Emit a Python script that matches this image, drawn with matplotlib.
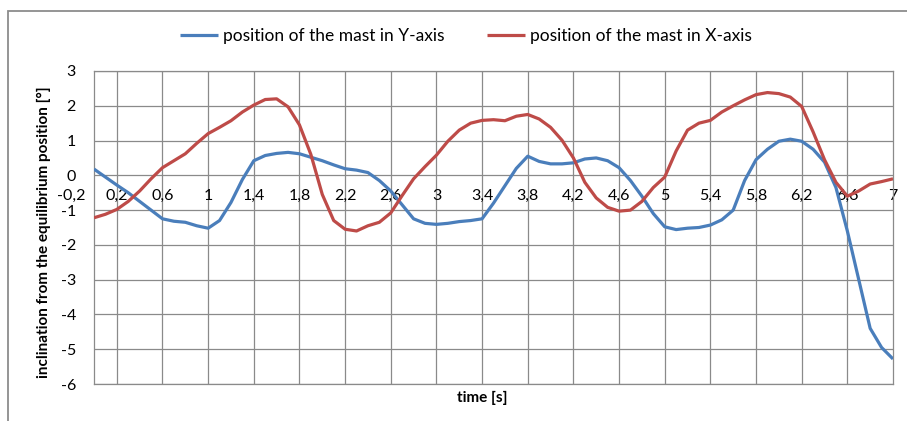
import numpy as np
import matplotlib
matplotlib.use("Agg")
import matplotlib.pyplot as plt
from matplotlib.patches import Rectangle

plt.rcParams['font.family'] = ['Lato', 'DejaVu Sans']

# time [s], sampled every 0.1 s
time = np.round(np.arange(0, 71) * 0.1, 1)

# position of the mast in Y-axis [deg]
mast_y = [0.18, -0.05, -0.28, -0.5, -0.75, -1.0, -1.25, -1.32, -1.35, -1.45,
          -1.52, -1.3, -0.78, -0.12, 0.42, 0.57, 0.63, 0.66, 0.62, 0.52,
          0.42, 0.3, 0.19, 0.15, 0.08, -0.15, -0.45, -0.85, -1.25, -1.38,
          -1.41, -1.38, -1.33, -1.3, -1.25, -0.8, -0.3, 0.2, 0.55, 0.4,
          0.33, 0.33, 0.36, 0.47, 0.5, 0.42, 0.22, -0.15, -0.6, -1.1,
          -1.48, -1.56, -1.52, -1.5, -1.43, -1.28, -1.0, -0.15, 0.45, 0.75,
          0.98, 1.04, 0.98, 0.75, 0.38, -0.35, -1.6, -3.0, -4.4, -4.95,
          -5.28]

# position of the mast in X-axis [deg]
mast_x = [-1.22, -1.12, -0.98, -0.75, -0.45, -0.1, 0.22, 0.42, 0.62, 0.92,
          1.2, 1.38, 1.57, 1.82, 2.02, 2.18, 2.2, 1.97, 1.45, 0.6,
          -0.55, -1.3, -1.55, -1.6, -1.45, -1.35, -1.08, -0.58, -0.1, 0.25,
          0.58, 0.98, 1.3, 1.5, 1.58, 1.6, 1.57, 1.7, 1.75, 1.62,
          1.38, 1.01, 0.5, -0.2, -0.65, -0.92, -1.03, -1.0, -0.75, -0.35,
          -0.05, 0.7, 1.3, 1.5, 1.58, 1.82, 2.0, 2.17, 2.32, 2.38,
          2.35, 2.25, 1.98, 1.25, 0.45, -0.2, -0.6, -0.45, -0.25, -0.18,
          -0.1]

xtick_vals = [-0.2, 0.2, 0.6, 1.0, 1.4, 1.8, 2.2, 2.6, 3.0, 3.4, 3.8,
              4.2, 4.6, 5.0, 5.4, 5.8, 6.2, 6.6, 7.0]
ytick_vals = [3, 2, 1, 0, -1, -2, -3, -4, -5, -6]

fig = plt.figure(figsize=(9.07, 4.21), dpi=100)
ax = fig.add_axes([94 / 907, 1 - 384 / 421, (893 - 94) / 907, (384 - 71) / 421])

grid_c = '#8a8a8a'
ax.set_xlim(0, 7)
ax.set_ylim(-6, 3)
for xv in xtick_vals:
    if 0 < xv < 7:
        ax.axvline(xv, color=grid_c, lw=0.9, zorder=1)
for yv in ytick_vals:
    ax.axhline(yv, color=grid_c, lw=0.9, zorder=1)
for s in ax.spines.values():
    s.set_color(grid_c)
    s.set_linewidth(0.9)

ax.plot(time, mast_y, color='#4A7EBB', lw=2.3, solid_joinstyle='round',
        solid_capstyle='butt', zorder=3, label='position of the mast in Y-axis')
ax.plot(time, mast_x, color='#BE4B48', lw=2.3, solid_joinstyle='round',
        solid_capstyle='butt', zorder=3, label='position of the mast in X-axis')

# y tick labels
ax.set_yticks(ytick_vals)
ax.set_yticklabels([str(v) for v in ytick_vals], fontsize=11.5)
ax.tick_params(axis='y', length=0, pad=13)
ax.set_xticks([])

# x tick labels sit just under the zero line (Excel style)
for xv in xtick_vals:
    lab = ('%g' % xv).replace('.', ',')
    ax.text(xv, -0.4, lab, ha='center', va='top', fontsize=11.5,
            clip_on=False, zorder=2)

fig.text(482 / 907, 1 - 398 / 421, 'time [s]', ha='center', va='center',
         fontsize=11, fontweight='bold')
fig.text(44 / 907, 1 - 232 / 421, 'inclination from the equilibrium position [°]',
         ha='center', va='center', rotation=90, fontsize=11, fontweight='bold')

fig.legend(loc='center', bbox_to_anchor=(466 / 907, 1 - 36 / 421), ncol=2,
           frameon=False, fontsize=12.5, handlelength=2.2, handletextpad=0.3,
           columnspacing=2.4)

# outer chart frame (only left and top visible)
fig.add_artist(Rectangle((8 / 907, -0.2), 1.2, 1.2 - 11 / 421,
                         transform=fig.transFigure, fill=False,
                         edgecolor='#8c8c8c', lw=1.3))

fig.savefig('out.png', dpi=100)
